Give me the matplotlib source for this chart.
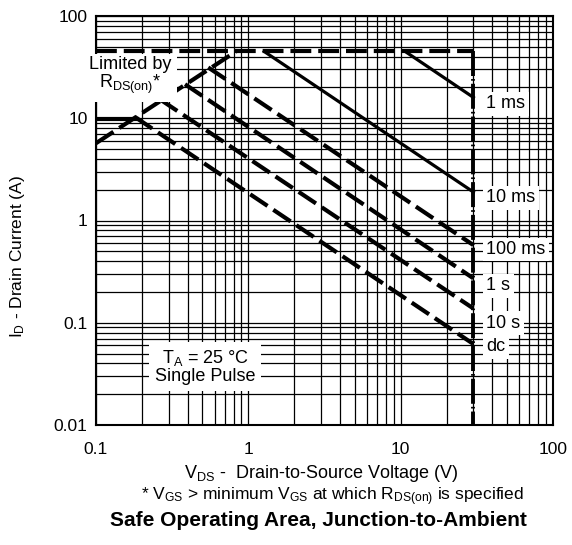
import matplotlib
matplotlib.use('Agg')
import matplotlib.pyplot as plt
from matplotlib.ticker import FixedLocator, FixedFormatter, NullFormatter

# values (V in volts, I in amps)
limitV = [0.1, 30]
limitI = [45, 45]
rdsV = [0.1, 0.83]
rdsI = [5.7, 45]
vdsMaxV = [30, 30]
vdsMaxI = [45, 0.01]

ms1V = [10.7, 30]
ms1I = [45, 16]
ms10V = [1.27, 30]
ms10I = [45, 1.9]
ms100V = [0.545, 30]
ms100I = [31.4, 0.575]
s1V = [0.384, 30]
s1I = [21.5, 0.272]
s10V = [0.263, 30]
s10I = [15.3, 0.138]
dcV = [0.18, 30]
dcI = [10.3, 0.062]
dcFlatV = [0.1, 0.185]
dcFlatI = [9.73, 9.73]

curveLabels = ['1 ms', '10 ms', '100 ms', '1 s', '10 s', 'dc']
labelI = [13.8, 1.66, 0.52, 0.23, 0.099, 0.058]
labelV = 36.5

xTicks = [0.1, 1, 10, 100]
xTickLbl = ['0.1', '1', '10', '100']
yTicks = [0.01, 0.1, 1, 10, 100]
yTickLbl = ['0.01', '0.1', '1', '10', '100']


def main():
    plt.rcParams['font.family'] = ['Liberation Sans', 'DejaVu Sans']
    plt.rcParams['mathtext.fontset'] = 'custom'
    plt.rcParams['mathtext.rm'] = 'Liberation Sans'
    plt.rcParams['mathtext.it'] = 'Liberation Sans:italic'
    plt.rcParams['mathtext.bf'] = 'Liberation Sans:bold'
    plt.rcParams['lines.scale_dashes'] = False

    fig = plt.figure(figsize=(5.72, 5.45), dpi=100)
    ax = fig.add_axes([96 / 572, 1 - 425 / 545, 457 / 572, 409 / 545])
    ax.set_xscale('log')
    ax.set_yscale('log')
    ax.set_xlim(0.1, 100)
    ax.set_ylim(0.01, 100)

    ax.xaxis.set_major_locator(FixedLocator(xTicks))
    ax.xaxis.set_major_formatter(FixedFormatter(xTickLbl))
    ax.yaxis.set_major_locator(FixedLocator(yTicks))
    ax.yaxis.set_major_formatter(FixedFormatter(yTickLbl))
    ax.xaxis.set_minor_formatter(NullFormatter())
    ax.yaxis.set_minor_formatter(NullFormatter())
    ax.tick_params(which='both', length=0, labelsize=12.5)
    ax.tick_params(axis='x', pad=12)
    ax.tick_params(axis='y', pad=6)
    ax.grid(which='both', color='black', linewidth=0.9)
    for s in ax.spines.values():
        s.set_linewidth(1.5)

    dash = (0, (15, 5))
    ax.plot(limitV, limitI, color='black', lw=3.0, linestyle=dash, zorder=3)
    ax.plot(rdsV, rdsI, color='black', lw=3.0, linestyle=dash, zorder=3)
    # long dash + dot pattern of the VDS max line
    ax.plot(vdsMaxV, vdsMaxI, color='black', lw=2.8,
            linestyle=(0, (18, 2.2, 1.2, 2.2)), zorder=3)

    ax.plot(ms1V, ms1I, color='black', lw=2.3, zorder=3)
    ax.plot(ms10V, ms10I, color='black', lw=2.3, zorder=3)
    ax.plot(ms100V, ms100I, color='black', lw=3.0, linestyle=dash, zorder=3)
    ax.plot(s1V, s1I, color='black', lw=3.0, linestyle=dash, zorder=3)
    ax.plot(s10V, s10I, color='black', lw=3.0, linestyle=dash, zorder=3)
    ax.plot(dcV, dcI, color='black', lw=3.0, linestyle=dash, zorder=3)
    ax.plot(dcFlatV, dcFlatI, color='black', lw=3.0, zorder=3)

    box = dict(facecolor='white', edgecolor='none', pad=2.5)
    for lbl, yv in zip(curveLabels, labelI):
        ax.text(labelV, yv, lbl, fontsize=13, ha='left', va='center',
                bbox=box, zorder=4)

    ax.text(0.167, 26, 'Limited by\n' + r'R$_{\rm DS(on)}$*', fontsize=13,
            ha='center', va='center', linespacing=1.0,
            bbox=dict(facecolor='white', edgecolor='none', pad=4),
            zorder=5, clip_on=False)
    ax.text(0.52, 0.037, r'T$_{\rm A}$ = 25 °C' + '\nSingle Pulse', fontsize=13,
            ha='center', va='center', linespacing=1.0,
            bbox=dict(facecolor='white', edgecolor='none', pad=4), zorder=4)

    fig.text(18 / 572, 0.53, r'I$_{\rm D}$ - Drain Current (A)', fontsize=12.5,
             rotation=90, ha='center', va='center')
    fig.text(0.561, 1 - 473 / 545, r'V$_{\rm DS}$ -  Drain-to-Source Voltage (V)',
             fontsize=13, ha='center', va='center')
    fig.text(0.581, 1 - 497 / 545,
             r'* V$_{\rm GS}$ > minimum V$_{\rm GS}$ at which R$_{\rm DS(on)}$ is specified',
             fontsize=12.5, ha='center', va='center')
    fig.text(0.556, 1 - 520 / 545, 'Safe Operating Area, Junction-to-Ambient',
             fontsize=15, fontweight='bold', ha='center', va='center')

    fig.savefig('out.png', dpi=100)


if __name__ == '__main__':
    main()
